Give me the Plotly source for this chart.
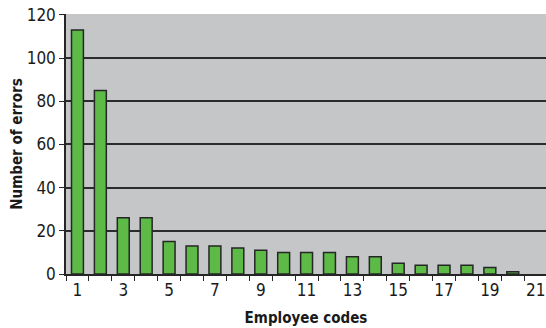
import plotly.graph_objects as go

employee_codes = list(range(1, 21))
error_counts = [113, 85, 26, 26, 15, 13, 13, 12, 11, 10, 10, 10, 8, 8, 5, 4, 4, 4, 3, 1]
x_tick_values = list(range(1, 22, 2))
x_tick_labels = [str(c) for c in x_tick_values]
y_tick_values = list(range(0, 121, 20))

font_family = "DejaVu Sans Condensed, Liberation Sans Narrow, Arial Narrow, sans-serif"

fig = go.Figure(
    go.Bar(
        x=employee_codes,
        y=error_counts,
        width=0.52,
        marker=dict(color="#5dba47", line=dict(color="#262626", width=1.5)),
    )
)

fig.update_layout(
    width=546,
    height=328,
    margin=dict(l=66, r=0, t=14, b=54),
    paper_bgcolor="white",
    plot_bgcolor="#c5c6c8",
    showlegend=False,
    font=dict(family=font_family, color="#1a1a1a"),
)

fig.update_xaxes(
    range=[0.5, 21.45],
    tickvals=x_tick_values,
    ticktext=x_tick_labels,
    ticks="",
    tickfont=dict(size=17),
    showgrid=False,
    showline=True,
    linecolor="#262626",
    linewidth=1.5,
    zeroline=False,
    minor=dict(ticks="outside", tick0=0.5, dtick=1, ticklen=5, tickwidth=1.2,
               tickcolor="#262626", showgrid=False),
    title=dict(text="<b>Employee codes</b>", font=dict(size=15), standoff=13),
)

fig.update_yaxes(
    range=[0, 120.4],
    tickvals=y_tick_values,
    ticks="outside",
    ticklen=5,
    tickwidth=1.2,
    tickcolor="#262626",
    tickfont=dict(size=17),
    showgrid=True,
    gridcolor="#2b2b2b",
    gridwidth=1.5,
    showline=True,
    linecolor="#262626",
    linewidth=1.5,
    zeroline=False,
    title=dict(text="<b>Number of errors</b>", font=dict(size=15), standoff=0),
)

fig.write_html("out.html")
